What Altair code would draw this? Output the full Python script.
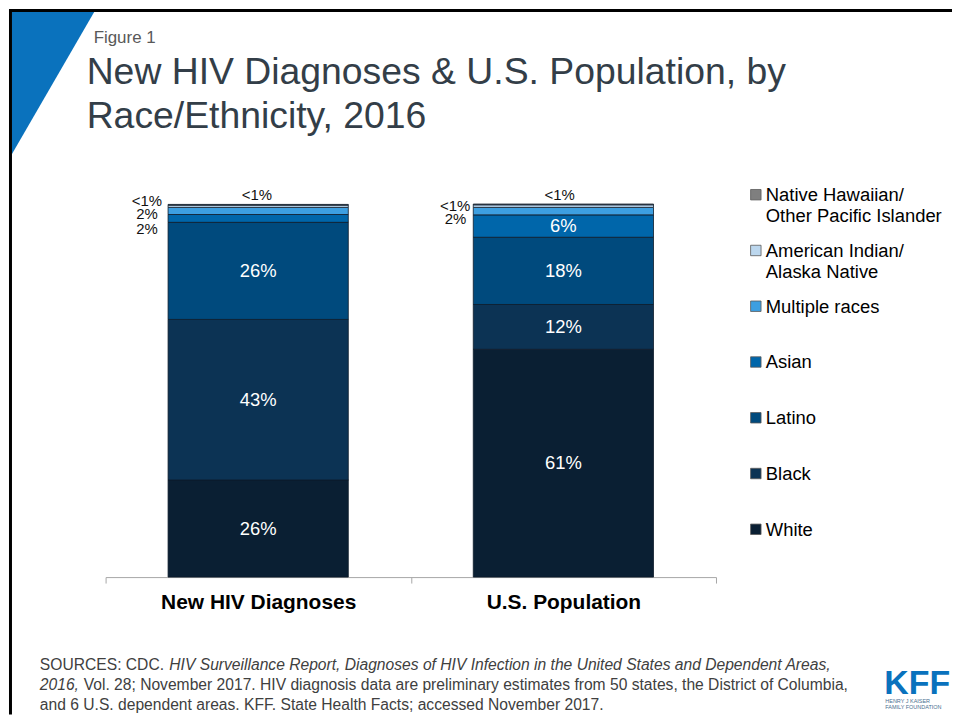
import altair as alt
import pandas as pd

# ---------------- data ----------------
groups = ["New HIV Diagnoses", "U.S. Population"]
races = ["White", "Black", "Latino", "Asian", "Multiple races",
         "American Indian/Alaska Native", "Native Hawaiian/Other Pacific Islander"]
hiv_values = [26, 43, 26, 2.1, 1.9, 0.6, 0.2]
pop_values = [61, 12, 18, 6, 2, 0.7, 0.2]
hiv_labels = ["26%", "43%", "26%", "2%", "2%", "<1%", "<1%"]
pop_labels = ["61%", "12%", "18%", "6%", "2%", "<1%", "<1%"]
colors = ["#0a1f33", "#0c3354", "#004a7d", "#0066aa", "#3d9fe1", "#bcd7ee", "#7f7f7f"]
legend_order = races[::-1]
legend_texts = ["Native Hawaiian/\nOther Pacific Islander", "American Indian/\nAlaska Native",
                "Multiple races", "Asian", "Latino", "Black", "White"]

# ---------------- layout constants (page pixels) ----------------
FONT = "Liberation Sans"
OX, OY = 106, 203          # page position of plot-area origin
PW, PH = 613, 375          # plot area size
TOTAL_W, TOTAL_H = 948, 708
PAD = {"left": OX - 8, "top": OY - 8,
       "right": TOTAL_W - (OX - 8) - PW, "bottom": TOTAL_H - (OY - 8) - PH}

# positions of the small outside labels (page px): (group index, race) -> (x, y)
small_pos = {
    (0, "Native Hawaiian/Other Pacific Islander"): (258, 194.5),
    (0, "American Indian/Alaska Native"): (147.5, 200),
    (0, "Multiple races"): (147.5, 213.5),
    (0, "Asian"): (147.5, 228),
    (1, "Native Hawaiian/Other Pacific Islander"): (562, 194.5),
    (1, "American Indian/Alaska Native"): (457, 205),
    (1, "Multiple races"): (457.5, 218.5),
}

rows = []
for gi, (g, vals, labs) in enumerate([(groups[0], hiv_values, hiv_labels),
                                      (groups[1], pop_values, pop_labels)]):
    cum = 0
    for i, (r, v, l) in enumerate(zip(races, vals, labs)):
        rows.append({"group": g, "gi": gi, "race": r, "order": i, "value": v,
                     "label": l, "mid": cum + v / 2})
        cum += v
df = pd.DataFrame(rows)

color_scale = alt.Scale(domain=races, range=colors)
x_scale = alt.Scale(domain=groups, paddingInner=0, paddingOuter=0)
y_scale = alt.Scale(domain=[0, 100])

bars = alt.Chart(df).mark_bar(size=181, stroke="#0d1b2a", strokeWidth=0.8).encode(
    x=alt.X("group:N", sort=groups, scale=x_scale, title=None,
            axis=alt.Axis(labelAngle=0, domainColor="#a6a6a6", tickColor="#a6a6a6",
                          tickSize=6, tickBand="extent", labelFont=FONT,
                          labelFontWeight="bold", labelFontSize=21, labelColor="#000000",
                          labelBaseline="alphabetic", labelPadding=26, labelLimit=400,
                          grid=False)),
    y=alt.Y("value:Q", stack="zero", scale=y_scale, axis=None),
    color=alt.Color("race:N", scale=color_scale, legend=None),
    order=alt.Order("order:Q", sort="ascending"),
)

inside = alt.Chart(df[df["value"] >= 5]).mark_text(
    color="white", fontSize=18.5, font=FONT, baseline="middle").encode(
    x=alt.X("group:N", sort=groups, scale=x_scale, axis=None),
    y=alt.Y("mid:Q", scale=y_scale, axis=None),
    text="label:N",
)

one = alt.Data(values=[{}])


def txt(s, x, y, size, color="#000000", weight="normal", style="normal",
        align="left", baseline="alphabetic"):
    return alt.Chart(one).mark_text(
        text=s, fontSize=size, color=color, fontWeight=weight, fontStyle=style,
        align=align, baseline=baseline, font=FONT).encode(
        x=alt.value(x - OX), y=alt.value(y - OY))


layers = [bars, inside]

# small outside labels
for _, r in df[df["value"] < 5].iterrows():
    px, py = small_pos[(r["gi"], r["race"])]
    layers.append(txt(r["label"], px, py, 15, color="#111111",
                      align="center", baseline="middle"))

# custom legend
LEG_TOP, LEG_STEP = 194, 56
leg = pd.DataFrame({"race": legend_order, "text": legend_texts,
                    "i": list(range(len(legend_order)))})
leg["sx"] = 759 - OX
leg["sy"] = LEG_TOP + LEG_STEP * leg["i"] - OY
leg["tx"] = 769 - OX
leg["ty"] = leg["sy"] + 6.5

leg_sq = alt.Chart(leg).mark_square(size=110, opacity=1, filled=True,
                                    stroke="#5a5a5a", strokeWidth=0.8).encode(
    x=alt.X("sx:Q", scale=None, axis=None),
    y=alt.Y("sy:Q", scale=None, axis=None),
    color=alt.Color("race:N", scale=color_scale, legend=None),
)
leg_tx = alt.Chart(leg).mark_text(align="left", baseline="alphabetic", fontSize=18.5,
                                  font=FONT, lineBreak="\n", lineHeight=21,
                                  color="#000000").encode(
    x=alt.X("tx:Q", scale=None, axis=None),
    y=alt.Y("ty:Q", scale=None, axis=None),
    text="text:N",
)
layers += [leg_sq, leg_tx]

# decorations: blue triangle and frame
tri = pd.DataFrame({"x": [12 - OX, 96 - OX], "y": [8 - OY, 8 - OY],
                    "y2": [153 - OY, 8 - OY]})
triangle = alt.Chart(tri).mark_area(color="#0a72bd", opacity=1).encode(
    x=alt.X("x:Q", scale=None, axis=None),
    y=alt.Y("y:Q", scale=None, axis=None),
    y2="y2:Q",
)
left_border = alt.Chart(one).mark_rule(color="#000000", strokeWidth=3).encode(
    x=alt.value(10.5 - OX), y=alt.value(8 - OY), y2=alt.value(8 + TOTAL_H - OY))
top_border = alt.Chart(one).mark_rule(color="#000000", strokeWidth=3).encode(
    x=alt.value(9 - OX), x2=alt.value(8 + TOTAL_W - OX), y=alt.value(9 - OY))
layers = [triangle, left_border, top_border] + layers

# titles
layers.append(txt("Figure 1", 94, 42, 17, color="#595959"))
layers.append(txt("New HIV Diagnoses & U.S. Population, by", 87, 83, 37.5, color="#333e48"))
layers.append(txt("Race/Ethnicity, 2016", 87, 127, 37.5, color="#333e48"))

# sources
SC = "#404040"
SS = 15.7
layers.append(txt("SOURCES: CDC. ", 40, 671, SS, color=SC))
layers.append(txt("HIV Surveillance Report, Diagnoses of HIV Infection in the United States and Dependent Areas,",
                  170, 671, SS, color=SC, style="italic"))
layers.append(txt("2016,", 40, 691, SS, color=SC, style="italic"))
layers.append(txt("Vol. 28; November 2017. HIV diagnosis data are preliminary estimates from 50 states, the District of Columbia,",
                  84, 691, SS, color=SC))
layers.append(txt("and 6 U.S. dependent areas. KFF. State Health Facts; accessed November 2017.",
                  40, 711, SS, color=SC))

# KFF logo
layers.append(txt("KFF", 888, 695, 34, color="#0a72bd", weight="bold"))
layers.append(txt("HENRY J KAISER", 889, 704, 5.5, color="#4a6f8f"))
layers.append(txt("FAMILY FOUNDATION", 889, 710, 5.5, color="#4a6f8f"))

chart = alt.layer(*layers).resolve_scale(
    x="independent", y="independent", color="shared"
).properties(
    width=PW, height=PH, padding=PAD, autosize="none", background="white"
).configure_view(stroke=None)

chart.save("out.html", embed_options={"renderer": "svg", "actions": False})
